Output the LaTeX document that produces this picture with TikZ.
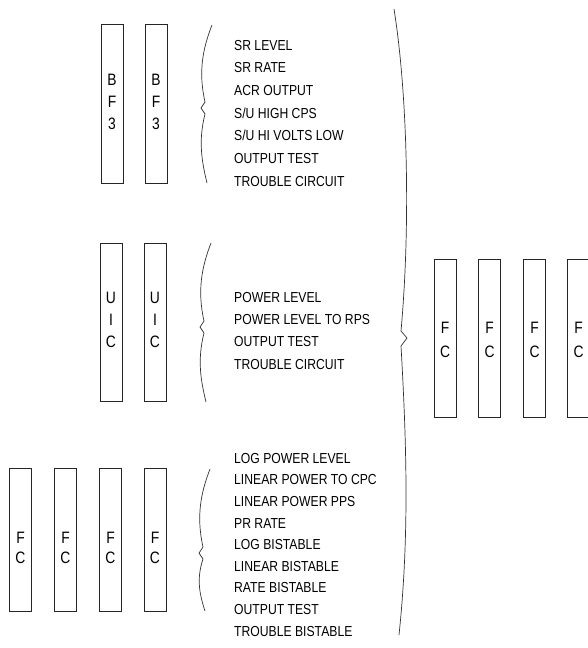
\documentclass[tikz,border=0pt]{standalone}
\usepackage{fontspec}
\setmainfont[FakeStretch=0.84]{Liberation Sans}
\tikzset{
    card/.style={draw=black!85, line width=0.8pt, minimum width=22pt, inner sep=0pt},
    letters/.style={align=center, inner sep=0pt, font=\fontsize{16.5}{#1}\selectfont},
    letters/.default=21,
    item/.style={anchor=west, inner sep=0pt, text height=10.4pt, text depth=0pt, font=\fontsize{14.5}{17}\selectfont},
    brace line/.style={draw=black!80, line width=0.7pt, line join=round}
}
\newcommand{\listBrace}[4]{%
    \draw[brace line] (#1+11,#2) .. controls (#1+2,{#2+0.3*(#3-6-#2)}) and (#1-3,{#2+0.6*(#3-6-#2)}) .. (#1+4,#3-6)
        -- (#1,#3) -- (#1+4,#3+6)
        .. controls (#1-3,{#3+6+0.4*(#4-#3-6)}) and (#1+1,{#3+6+0.7*(#4-#3-6)}) .. (#1+6,#4);
}

\begin{document}
\begin{tikzpicture}[x=1pt, y=-1pt]
    \useasboundingbox (0,0) rectangle (588,648);

    \foreach \n/\x in {1/112, 2/156} {
        \node[card, minimum height=159pt] (bf\n) at (\x,103.5) {};
        \node[letters=22] (bft\n) at ([yshift=1.5pt]bf\n.center) {B\\F\\3};
    }
    \listBrace{201}{25}{108}{183}
    \foreach \l [count=\i from 0] in {SR LEVEL, SR RATE, ACR OUTPUT, S/U HIGH CPS, S/U HI VOLTS LOW, OUTPUT TEST, TROUBLE CIRCUIT} {
        \node[item] (bfitem\i) at (234,{45+22.67*\i}) {\l};
    }

    \foreach \n/\x in {1/111, 2/155} {
        \node[card, minimum height=158pt] (uic\n) at (\x,322) {};
        \node[letters=22] (uict\n) at ([yshift=2pt]uic\n.center) {U\\I\\C};
    }
    \listBrace{200}{243}{327}{402}
    \foreach \l [count=\i from 0] in {POWER LEVEL, POWER LEVEL TO RPS, OUTPUT TEST, TROUBLE CIRCUIT} {
        \node[item] (uicitem\i) at (234,{297+22.33*\i}) {\l};
    }

    \foreach \n/\x in {1/20.5, 2/65.5, 3/110.5, 4/155} {
        \node[card, minimum height=143pt] (fcl\n) at (\x,539.5) {};
        \node[letters=20] (fclt\n) at ([yshift=-8pt]fcl\n.center) {F\\C};
    }
    \listBrace{199}{469}{553}{611}
    \foreach \l [count=\i from 0] in {LOG POWER LEVEL, LINEAR POWER TO CPC, LINEAR POWER PPS, PR RATE, LOG BISTABLE, LINEAR BISTABLE, RATE BISTABLE, OUTPUT TEST, TROUBLE BISTABLE} {
        \node[item] (fcitem\i) at (234,{458+21.63*\i}) {\l};
    }

    \draw[brace line] (394,9) .. controls (407,90) and (411,220) .. (401,331)
        -- (407,338) -- (401,346) .. controls (407,450) and (409,540) .. (399,635);

    \foreach \n/\x in {1/445, 2/489.5, 3/534.5, 4/578.5} {
        \node[card, minimum height=158pt] (fcr\n) at (\x,338) {};
        \node[letters=24] (fcrt\n) at ([yshift=-2pt]fcr\n.center) {F\\C};
    }
\end{tikzpicture}
\end{document}
